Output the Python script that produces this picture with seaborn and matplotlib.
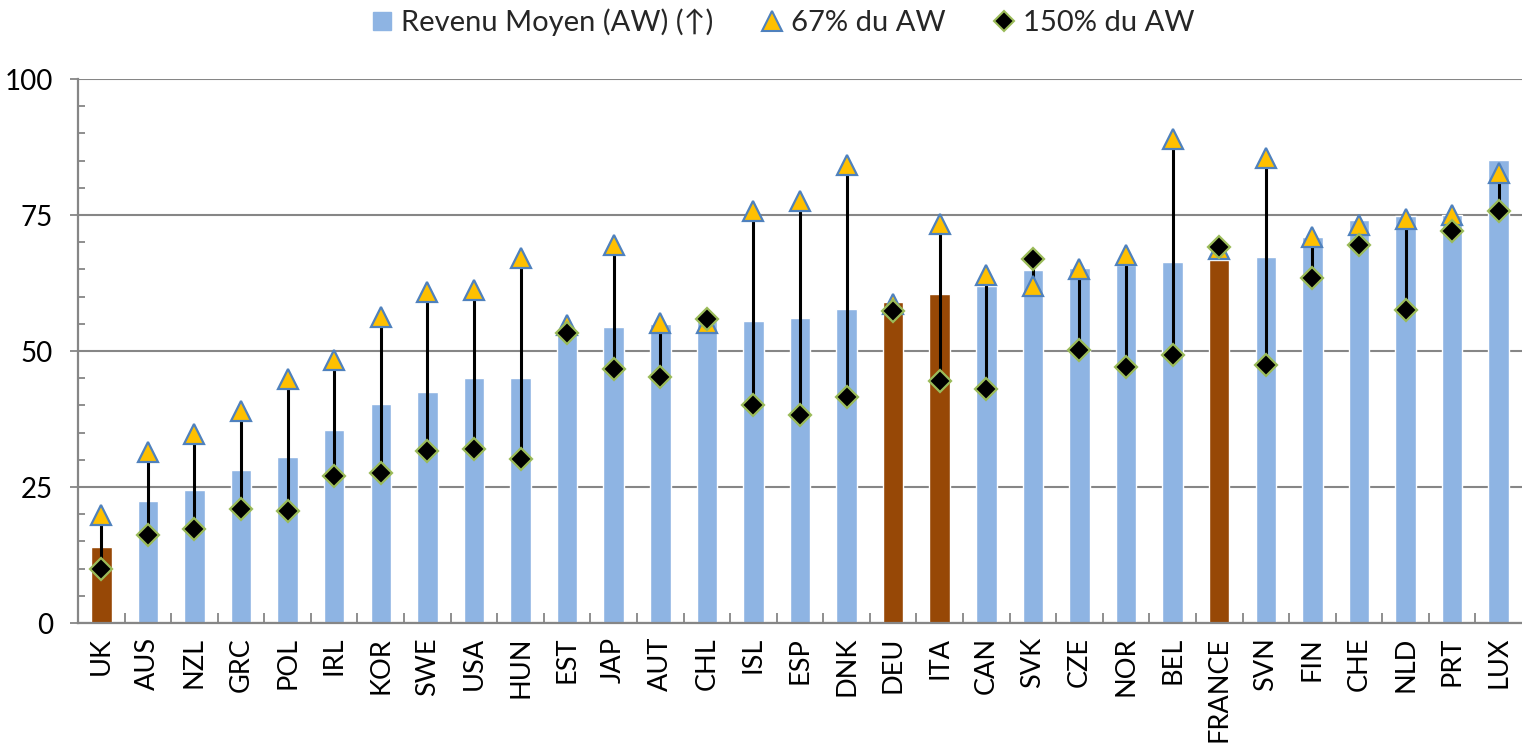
import matplotlib
matplotlib.use("Agg")
import matplotlib.pyplot as plt
import seaborn as sns
import pandas as pd
from matplotlib.lines import Line2D
from matplotlib.ticker import MultipleLocator, FixedLocator

countries = ["UK", "AUS", "NZL", "GRC", "POL", "IRL", "KOR", "SWE", "USA", "HUN",
             "EST", "JAP", "AUT", "CHL", "ISL", "ESP", "DNK", "DEU", "ITA", "CAN",
             "SVK", "CZE", "NOR", "BEL", "FRANCE", "SVN", "FIN", "CHE", "NLD", "PRT", "LUX"]
revenu_moyen = [14.0, 22.5, 24.4, 28.1, 30.6, 35.4, 40.2, 42.4, 45.0, 45.0,
                53.5, 54.5, 54.9, 55.6, 55.6, 56.1, 57.8, 59.0, 60.5, 62.0,
                64.8, 65.2, 65.8, 66.3, 66.7, 67.3, 71.0, 74.0, 74.8, 75.0, 85.1]
pct67 = [19.8, 31.5, 34.8, 38.9, 44.9, 48.4, 56.2, 60.9, 61.3, 67.1,
         54.7, 69.4, 55.1, 55.1, 75.7, 77.6, 84.1, 58.6, 73.4, 63.9,
         61.9, 65.0, 67.6, 89.0, 68.8, 85.5, 70.9, 73.1, 74.2, 75.0, 82.8]
pct150 = [9.9, 16.2, 17.2, 20.9, 20.5, 27.1, 27.5, 31.6, 31.9, 30.1,
          53.3, 46.7, 45.2, 55.9, 40.1, 38.2, 41.6, 57.4, 44.5, 43.1,
          67.0, 50.1, 47.0, 49.3, 69.1, 47.4, 63.5, 69.5, 57.6, 72.1, 75.7]
highlighted = ["UK", "DEU", "ITA", "FRANCE"]

BLUE = "#8EB4E3"
BROWN = "#974806"
GRID = "#868686"

sns.set_theme(style="white")
plt.rcParams["font.family"] = ["Lato", "DejaVu Sans"]

df = pd.DataFrame({"pays": countries, "aw": revenu_moyen, "p67": pct67, "p150": pct150})
palette = {c: (BROWN if c in highlighted else BLUE) for c in countries}

fig = plt.figure(figsize=(15.22, 7.44), dpi=100)
ax = fig.add_axes([78 / 1522, 1 - 623 / 744, 1 - 78 / 1522, (623 - 79) / 744])

sns.barplot(data=df, x="pays", y="aw", hue="pays", palette=palette, legend=False,
            width=0.44, ax=ax, saturation=1, zorder=2)

pos = list(range(len(countries)))
ax.vlines(pos, df["p150"], df["p67"], colors="black", linewidth=2.2, zorder=3)
ax.plot(pos, df["p67"], linestyle="none", marker="^", markersize=14.5,
        markerfacecolor="#FFC000", markeredgecolor="#4F81BD", markeredgewidth=1.6, zorder=4)
ax.plot(pos, df["p150"], linestyle="none", marker="D", markersize=11.5,
        markerfacecolor="black", markeredgecolor="#9BBB59", markeredgewidth=1.6, zorder=5)

ax.set_ylim(0, 100)
ax.set_xlim(-0.5, len(countries) - 0.5)
ax.set_yticks([0, 25, 50, 75, 100])
ax.yaxis.set_minor_locator(MultipleLocator(5))
ax.xaxis.set_minor_locator(FixedLocator([i + 0.5 for i in range(len(countries) - 1)]))
ax.grid(axis="y", color=GRID, linewidth=1.5, zorder=0)
ax.set_axisbelow(True)
ax.set_xlabel("")
ax.set_ylabel("")

for s in ["top", "right"]:
    ax.spines[s].set_visible(False)
for s in ["left", "bottom"]:
    ax.spines[s].set_color(GRID)
    ax.spines[s].set_linewidth(1.6)

ax.tick_params(axis="y", which="major", direction="out", length=6, width=1.3,
               color=GRID, labelsize=20, pad=12, left=True, labelcolor="black")
ax.tick_params(axis="y", which="minor", direction="in", length=5, width=1.3,
               color=GRID, left=True)
ax.tick_params(axis="x", which="major", length=0, labelsize=19.5, pad=10,
               labelrotation=90, labelcolor="black")
ax.tick_params(axis="x", which="minor", direction="in", length=7, width=1.3,
               color=GRID, bottom=True)

handles = [
    Line2D([], [], linestyle="none", marker="s", markersize=13,
           markerfacecolor=BLUE, markeredgecolor=BLUE),
    Line2D([], [], linestyle="none", marker="^", markersize=14,
           markerfacecolor="#FFC000", markeredgecolor="#4F81BD", markeredgewidth=1.5),
    Line2D([], [], linestyle="none", marker="D", markersize=10,
           markerfacecolor="black", markeredgecolor="#9BBB59", markeredgewidth=1.5),
]
labels = ["Revenu Moyen (AW) (\u2191)", "67% du AW", "150% du AW"]
fig.legend(handles, labels, loc="center", bbox_to_anchor=(781 / 1522, 1 - 22 / 744),
           ncol=3, frameon=False, fontsize=21, handletextpad=0.15, columnspacing=1.5,
           handlelength=1.0)

fig.savefig("out.png", dpi=100)
